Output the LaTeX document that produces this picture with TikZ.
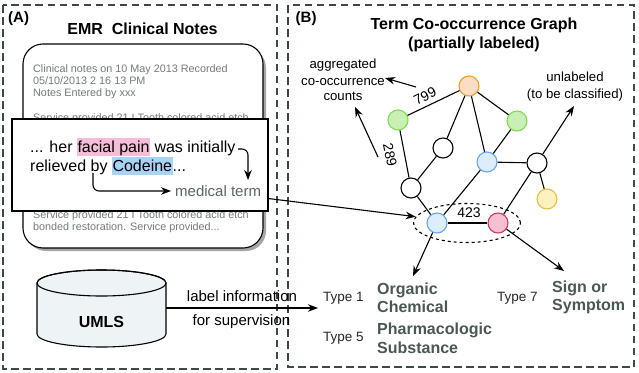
\documentclass[tikz,border=0pt]{standalone}
\usepackage{fontspec}
\setmainfont{Liberation Sans}
\usetikzlibrary{arrows.meta,shapes.geometric,calc}
\definecolor{dashc}{HTML}{3D4848}
\definecolor{notegray}{HTML}{737B7B}
\definecolor{termgray}{HTML}{5A6666}
\definecolor{typegray}{HTML}{4B5757}
\definecolor{hlpink}{HTML}{F6BCD8}
\definecolor{hlblue}{HTML}{A9D3F5}
\definecolor{orfill}{HTML}{FCDCC4}\definecolor{ordraw}{HTML}{E6A035}
\definecolor{grfill}{HTML}{C9F0B4}\definecolor{grdraw}{HTML}{7ED957}
\definecolor{blfill}{HTML}{DCEEFC}\definecolor{bldraw}{HTML}{6AA6EA}
\definecolor{yefill}{HTML}{FDF2BE}\definecolor{yedraw}{HTML}{E2C244}
\definecolor{pkfill}{HTML}{F7BFD3}\definecolor{pkdraw}{HTML}{CC3A58}
\definecolor{cylfill}{HTML}{EEF3F6}
\newcommand\hlbox[2]{{\setlength\fboxsep{0.5pt}\colorbox{#1}{\rule[-3pt]{0pt}{17pt}#2}}}
\begin{document}
\begin{tikzpicture}[x=1pt,y=-1pt,
  panel/.style={draw=dashc, line width=2.4pt, dash pattern=on 7.5pt off 4.5pt},
  gnode/.style={circle, draw, line width=1.1pt, minimum size=20pt, inner sep=0pt, fill=white},
  edge/.style={line width=1.1pt},
  arr/.style={-{Stealth[length=10pt,width=7.5pt]}, line width=1.1pt},
  notetxt/.style={anchor=base west, text=notegray, font=\fontsize{10.8}{11.8}\selectfont, align=left, inner sep=0pt},
  ttl/.style={font=\bfseries\fontsize{16}{19}\selectfont, inner sep=0pt},
  typelbl/.style={anchor=base west, font=\fontsize{13.5}{16}\selectfont, inner sep=0pt, text=black!85},
  typename/.style={anchor=base west, font=\bfseries\fontsize{16}{18.5}\selectfont, inner sep=0pt, text=typegray, align=left},
  smalltxt/.style={font=\fontsize{13.2}{16.5}\selectfont, inner sep=0pt, align=center},
  num/.style={font=\fontsize{14}{16}\selectfont, inner sep=1pt}
]
\useasboundingbox (0,0) rectangle (639,372);

% panels
\draw[panel] (3,5) rectangle (277,369);
\draw[panel] (288,5) rectangle (634,367);

% ---------- Panel A ----------
\node[ttl, anchor=base west, font=\bfseries\fontsize{15}{18}\selectfont] (labA) at (8,22.5) {(A)};
\node[ttl, anchor=base] (titleA) at (142.5,34.5) {EMR\ \ Clinical Notes};

% notes card with shadow
\fill[black!35, rounded corners=20pt] (26,48) rectangle (266,251);
\node[draw, line width=1.1pt, fill=white, rounded corners=20pt, minimum width=240pt, minimum height=204pt] (notes) at (143,146) {};
\node[notetxt] (n1) at (33,96.3) {Clinical notes on 10 May 2013 Recorded\\05/10/2013 2 16 13 PM\\Notes Entered by xxx};
\node[notetxt] (n2) at (33,121) {Service provided 21 I Tooth colored acid etch};
\node[notetxt] (n3) at (33,230) {Service provided 21 I Tooth colored acid etch\\bonded restoration. Service provided...};

% snippet box
\node[draw, line width=1.1pt, fill=white, minimum width=256pt, minimum height=92pt, inner sep=0pt] (snip) at (140,165) {};
\node[anchor=base west, font=\fontsize{16}{19}\selectfont, align=left, inner sep=0pt] (sent) at (30,171.5)
  {... her \hlbox{hlpink}{facial pain} was initially\\relieved by \hlbox{hlblue}{Codeine}...};
\node[anchor=base west, font=\fontsize{15}{18}\selectfont, text=termgray, inner sep=0pt] (term) at (175,196) {medical term};
\coordinate (c1s) at (238,149);
\coordinate (c1e) at (248,180);
\coordinate (c2s) at (93,173);
\coordinate (c2e) at (171,191);
\draw[arr, rounded corners=6pt] (c1s) -| (c1e);
\draw[arr, rounded corners=6pt] (c2s) |- (c2e);

% UMLS cylinder
\draw[line width=1.1pt, fill=cylfill] (37,283) -- (37,334)
  arc[start angle=180, end angle=0, x radius=64.5, y radius=13] -- (166,283)
  arc[start angle=0, end angle=-180, x radius=64.5, y radius=13] -- cycle;
\draw[line width=1.1pt] (101.5,283) ellipse [x radius=64.5, y radius=13];
\node[font=\bfseries\fontsize{16}{19}\selectfont, anchor=base] (umls) at (101.5,327) {UMLS};
\coordinate (umlsR) at (166,308);
\coordinate (typesL) at (318,308);
\draw[arr] (umlsR) -- (typesL);
\node[smalltxt, font=\fontsize{15}{18}\selectfont, anchor=base] (li1) at (242,301.5) {label information};
\node[smalltxt, font=\fontsize{15}{18}\selectfont, anchor=base] (li2) at (241.5,325) {for supervision};

% ---------- Panel B ----------
\node[ttl, anchor=base west, font=\bfseries\fontsize{15}{18}\selectfont] (labB) at (295.5,22) {(B)};
\node[ttl, anchor=base] (titleB) at (474,29.3) {Term Co-occurrence Graph};
\node[ttl, anchor=base] (titleB2) at (474,48.3) {(partially labeled)};

% dashed ellipse
\node[ellipse, draw, dashed, line width=1.1pt, minimum width=107pt, minimum height=39pt] (pair) at (467,223) {};

% graph nodes
\node[gnode, fill=orfill, draw=ordraw] (o) at (469,86) {};
\node[gnode, fill=grfill, draw=grdraw] (gl) at (398,120) {};
\node[gnode, fill=grfill, draw=grdraw] (gr) at (517,121) {};
\node[gnode] (w1) at (443,148) {};
\node[gnode, fill=blfill, draw=bldraw] (bm) at (487,162) {};
\node[gnode] (w2) at (537,163) {};
\node[gnode] (w3) at (411,188) {};
\node[gnode, fill=yefill, draw=yedraw] (ye) at (547,199) {};
\node[gnode, fill=blfill, draw=bldraw] (bb) at (437,223) {};
\node[gnode, fill=pkfill, draw=pkdraw] (pk) at (498,223) {};

% edges
\draw[edge] (o) -- (gl);
\draw[edge] (o) -- (w1);
\draw[edge] (o) -- (bm);
\draw[edge] (o) -- (gr);
\draw[edge] (gl) -- (w3);
\draw[edge] (w1) -- (w3);
\draw[edge] (w3) -- (bb);
\draw[edge] (bm) -- (bb);
\draw[edge] (gr) -- (bm);
\draw[edge] (bm) -- (w2);
\draw[edge] (w2) -- (pk);
\draw[edge] (w2) -- (ye);
\draw[edge] (bb) -- (pk);
\node[num, rotate=27] (l799) at (425,96) {799};
\node[num, rotate=-78] (l289) at (390,155) {289};
\node[num, anchor=base] (l423) at (469,217.7) {423};

% snippet to pair
\coordinate (snipR) at ($(snip.south east)+(0,-13)$);
\draw[arr] (snipR) -- (pair);

% annotations
\node[smalltxt, anchor=base] (agg1) at (343,68) {aggregated};
\node[smalltxt, anchor=base] (agg2) at (343,85) {co-occurrence};
\node[smalltxt, anchor=base] (agg3) at (343,100.7) {counts};
\coordinate (a1s) at (416,87);
\coordinate (a1e) at (385,78);
\coordinate (a2s) at (378,157);
\coordinate (a2e) at (355,107);
\draw[arr] (a1s) -- (a1e);
\draw[arr] (a2s) -- (a2e);

\node[smalltxt, anchor=base] (unl1) at (575,81.7) {unlabeled};
\node[smalltxt, anchor=base] (unl2) at (575,98.3) {(to be classified)};
\coordinate (unlTip) at (574,106);
\draw[arr] (w2) -- (unlTip);

\coordinate (bbTip) at (413,276);
\coordinate (pkTip) at (564,271);
\draw[arr] (bb) -- (bbTip);
\draw[arr] (pk) -- (pkTip);

% types
\node[typelbl] (t1) at (323,301.7) {Type 1};
\node[typelbl] (t5) at (323,341.7) {Type 5};
\node[typelbl] (t7) at (497,301.7) {Type 7};
\node[typename] (orgc) at (377,312.7) {Organic\\Chemical};
\node[typename] (phs) at (377,353.3) {Pharmacologic\\Substance};
\node[typename] (sos) at (552,310.7) {Sign or\\Symptom};
\end{tikzpicture}
\end{document}
